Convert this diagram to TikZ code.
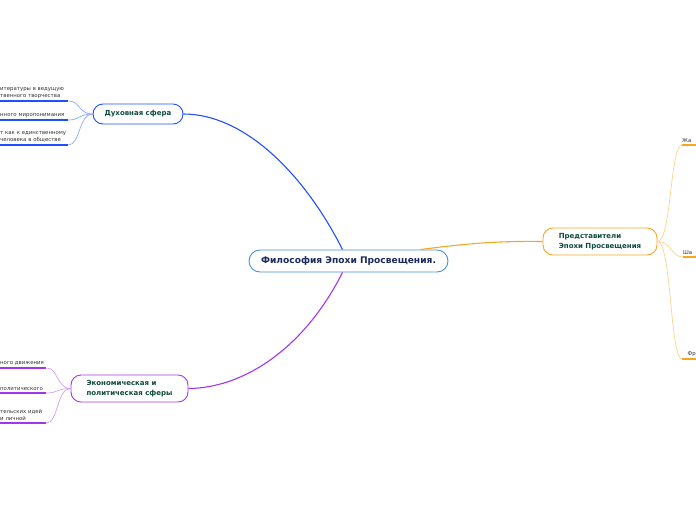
\documentclass[tikz,border=0pt]{standalone}
\usepackage{fontspec}
\setmainfont{DejaVu Sans}
\usetikzlibrary{calc}
\definecolor{cblue}{HTML}{1F4FFF}
\definecolor{lblue}{HTML}{8FA8FF}
\definecolor{cpurp}{HTML}{A335F0}
\definecolor{lpurp}{HTML}{D69CF5}
\definecolor{corng}{HTML}{F5A623}
\definecolor{lorng}{HTML}{FBD38C}
\definecolor{ccent}{HTML}{4A90D9}
\definecolor{tgreen}{HTML}{0E4A3A}
\definecolor{tnavy}{HTML}{1B2A5C}
\definecolor{tgray}{HTML}{333333}
\tikzset{
  mainbox/.style={draw=ccent, line width=0.9pt, rounded corners=11pt, minimum width=199pt, minimum height=22pt, font=\fontsize{9.1}{10}\selectfont\bfseries, text=tnavy},
  branch/.style={rounded corners=10pt, line width=0.9pt, inner xsep=14pt, font=\fontsize{7.0}{9.5}\selectfont\bfseries, text=tgreen},
  leaf/.style={anchor=south west, inner xsep=0pt, inner ysep=2.5pt, align=left, font=\fontsize{5.4}{7}\selectfont, text=tgray},
  uline/.style={line width=1.8pt},
  trunk/.style={line width=1.1pt},
  twig/.style={line width=0.7pt},
}
\begin{document}
\begin{tikzpicture}[x=1pt,y=-1pt]
\useasboundingbox (0,0) rectangle (696,520);
% central
\node[mainbox] (c) at (348.5,261) {Философия Эпохи Просвещения.};
% branches
\node[branch, draw=cblue, inner xsep=8pt, minimum width=90pt, minimum height=20pt] (d) at (138,114) {Духовная сфера};
\node[branch, draw=cpurp, minimum width=117pt, minimum height=27pt, align=left] (e) at (129.5,388.5) {Экономическая и\\политическая сферы};
\node[branch, draw=corng, minimum width=114pt, minimum height=27pt, align=left] (p) at (600,241.5) {Представители\\Эпохи Просвещения};
% trunks
\draw[trunk, cblue] ($(c.north)+(-6,0)$) .. controls (305,175) and (245,114) .. (d.east);
\draw[trunk, cpurp] ($(c.south)+(-6,0)$) .. controls (305,347) and (245,388) .. (e.east);
\draw[trunk, corng] ($(c.north)+(72,0)$) .. controls (470,243) and (500,241) .. (p.west);
% blue leaves
\node[leaf, text width=68pt] (d1) at (0,101) {итературы в ведущую\\твенного творчества};
\node[leaf, text width=68pt] (d2) at (0,120) {нного миропонимания};
\node[leaf, text width=68pt] (d3) at (0,145) {т как к единственному\\человека в обществе};
\foreach \n in {d1,d2,d3}{
  \draw[uline, cblue] (\n.south west) -- (\n.south east);
  \draw[twig, lblue] (d.west) .. controls ($(d.west)+(-14,0)$) and ($(\n.south east)+(12,0)$) .. (\n.south east);
}
% purple leaves
\node[leaf, text width=46pt] (e1) at (0,368) {ного движения};
\node[leaf, text width=46pt] (e2) at (0,393) {политического};
\node[leaf, text width=46pt] (e3) at (0,423) {тельских идей\\и личной};
\foreach \n in {e1,e2,e3}{
  \draw[uline, cpurp] (\n.south west) -- (\n.south east);
  \draw[twig, lpurp] (e.west) .. controls ($(e.west)+(-14,0)$) and ($(\n.south east)+(12,0)$) .. (\n.south east);
}
% orange leaves
\node[leaf, text width=14pt] (r1) at (682,145) {\hspace{5.5pt}Жа};
\node[leaf, text width=13pt] (r2) at (683,257) {\hspace{5.5pt}Ша};
\node[leaf, text width=14pt] (r3) at (682,359) {\hspace{5.5pt}Фр};
\foreach \n in {r1,r2,r3}{
  \draw[uline, corng] (\n.south west) -- (\n.south east);
  \draw[twig, lorng] (p.east) .. controls ($(p.east)+(14,0)$) and ($(\n.south west)+(-12,0)$) .. (\n.south west);
}
\end{tikzpicture}
\end{document}
